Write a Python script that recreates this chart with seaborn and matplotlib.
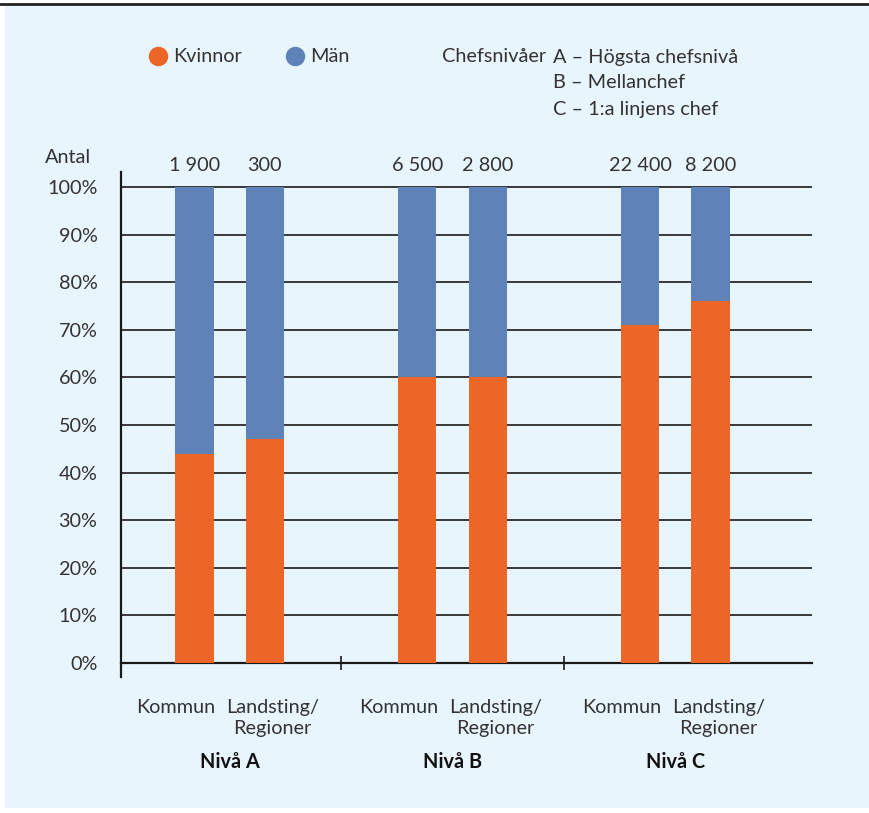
import matplotlib.pyplot as plt
import pandas as pd
import seaborn as sns
from matplotlib.patches import Rectangle
from matplotlib.lines import Line2D
from matplotlib.transforms import offset_copy

# data
nivaer = ['Nivå A', 'Nivå B', 'Nivå C']
organisationer = ['Kommun', 'Landsting/\nRegioner']
kvinnor = [44, 47, 60, 60, 71, 76]   # andel kvinnor i procent
man = [56, 53, 40, 40, 29, 24]       # andel män i procent
antal = ['1 900', '300', '6 500', '2 800', '22 400', '8 200']
chefsnivaer = ['A – Högsta chefsnivå', 'B – Mellanchef', 'C – 1:a linjens chef']

orange = '#EC6727'
bla = '#5F83B9'
bakgrund = '#E8F5FD'
textfarg = '#333333'
fs = 14.3

df = pd.DataFrame({
    'niva': [n for n in nivaer for _ in organisationer],
    'org': organisationer * len(nivaer),
    'kvinnor': kvinnor,
    'man': man,
})
df['totalt'] = df['kvinnor'] + df['man']

sns.set_style('white')
plt.rcParams['font.family'] = ['Lato', 'DejaVu Sans']

fig = plt.figure(figsize=(8.7, 8.13), dpi=100, facecolor='white')
# ljusblå panel och svart linje överst
fig.patches.append(Rectangle((5/870, 5/813), 1, 1 - 11/813, transform=fig.transFigure,
                             facecolor=bakgrund, edgecolor='none', zorder=-10))
fig.add_artist(Line2D([0, 1], [1 - 4/813, 1 - 4/813], color='#222222', lw=2))

ax = fig.add_axes([121/870, 136/813, 691/870, 505/813])
ax.set_facecolor('none')

# staplar: män som hela stapeln, kvinnor ovanpå
sns.barplot(data=df, x='niva', y='totalt', hue='org', order=nivaer,
            hue_order=organisationer, palette=[bla, bla], width=0.63, gap=0.457,
            legend=False, ax=ax, zorder=2, saturation=1, linewidth=0, edgecolor='none')
sns.barplot(data=df, x='niva', y='kvinnor', hue='org', order=nivaer,
            hue_order=organisationer, palette=[orange, orange], width=0.63, gap=0.457,
            legend=False, ax=ax, zorder=3, saturation=1, linewidth=0, edgecolor='none')

ax.set_ylim(-2.94, 103.15)
ax.set_xlim(-0.487, 2.5 + 25/222)
ax.set_yticks(range(0, 101, 10))
ax.set_yticklabels([f'{v}%' for v in range(0, 101, 10)])
ax.yaxis.grid(True, color='#2a2a2a', lw=1.3)
ax.set_axisbelow(True)
ax.set_xlabel('')
ax.set_ylabel('')

for s in ['top', 'right']:
    ax.spines[s].set_visible(False)
ax.spines['left'].set_color('#1a1a1a')
ax.spines['left'].set_linewidth(1.6)
ax.spines['bottom'].set_position(('data', 0))
ax.spines['bottom'].set_color('#1a1a1a')
ax.spines['bottom'].set_linewidth(1.6)

# stapelpositioner från seaborn
staplar = sorted(ax.patches[:len(kvinnor)], key=lambda p: p.get_x())
mitter = [p.get_x() + p.get_width()/2 for p in staplar]
ax.set_xticks([])
ax.set_xticks([0.5, 1.5], minor=True)
ax.tick_params(axis='x', which='minor', bottom=True, direction='inout', length=10,
               width=1.2, color='#1a1a1a')
ax.tick_params(axis='y', length=0, pad=17, labelsize=fs, labelcolor=textfarg)

# kategorietiketter under staplarna, något isär
forskjut = {'Kommun': -19, 'Landsting/\nRegioner': 8}
for x, org in zip(mitter, [o for _ in nivaer for o in organisationer]):
    tr = offset_copy(ax.get_xaxis_transform(), fig=fig, x=forskjut[org], y=0, units='dots')
    ax.text(x, -0.044, org, transform=tr, ha='center', va='top', fontsize=fs,
            color=textfarg, linespacing=1.25)

for x, t in zip(mitter, antal):
    ax.text(x, 104.6, t, ha='center', va='center', fontsize=fs, color=textfarg)
for i, n in enumerate(nivaer):
    ax.text(i, -0.168, n, transform=ax.get_xaxis_transform(), ha='center', va='center',
            fontsize=fs, fontweight='bold', color='#111111')

fig.text(68/870, 1 - 157/813, 'Antal', ha='center', va='center', fontsize=fs, color=textfarg)

# teckenförklaring
handtag = [Line2D([], [], marker='o', ls='', color=orange, markersize=13),
           Line2D([], [], marker='o', ls='', color=bla, markersize=13)]
fig.legend(handtag, ['Kvinnor', 'Män'], loc='center left', bbox_to_anchor=(132/870, 1 - 57/813),
           ncol=2, frameon=False, fontsize=fs, handlelength=0.8, handletextpad=0.35,
           columnspacing=2.3, labelcolor=textfarg)
fig.text(546/870, 1 - 57/813, 'Chefsnivåer', ha='right', va='center', fontsize=fs, color=textfarg)
for j, rad in enumerate(chefsnivaer):
    fig.text(553/870, 1 - (57 + 26*j)/813, rad, ha='left', va='center',
             fontsize=fs, color=textfarg)

fig.savefig('out.png', dpi=100, facecolor='white')
